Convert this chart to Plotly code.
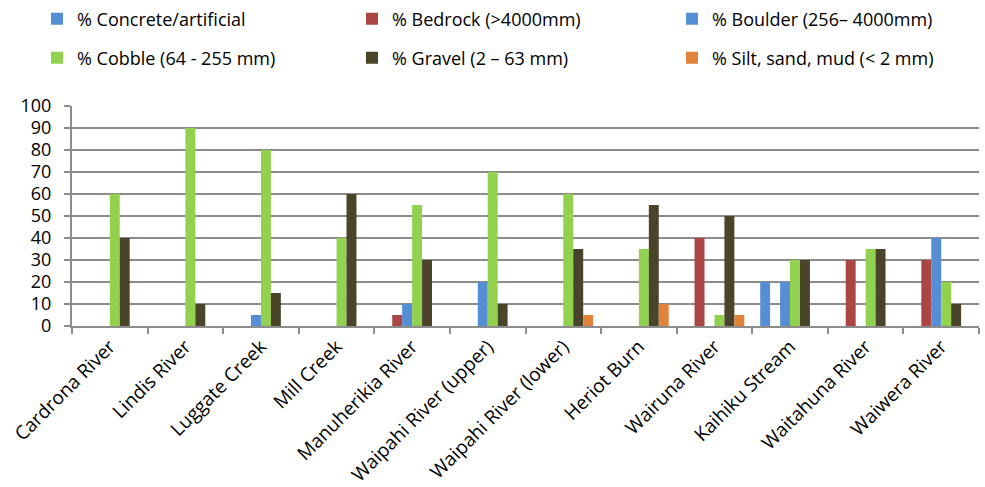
import plotly.graph_objects as go

sites = ["Cardrona River", "Lindis River", "Luggate Creek", "Mill Creek",
         "Manuherikia River", "Waipahi River (upper)", "Waipahi River (lower)",
         "Heriot Burn", "Wairuna River", "Kaihiku Stream", "Waitahuna River",
         "Waiwera River"]

concrete = [0, 0, 0, 0, 0, 0, 0, 0, 0, 20, 0, 0]
bedrock = [0, 0, 0, 0, 5, 0, 0, 0, 40, 0, 30, 30]
boulder = [0, 0, 5, 0, 10, 20, 0, 0, 0, 20, 0, 40]
cobble = [60, 90, 80, 40, 55, 70, 60, 35, 5, 30, 35, 20]
gravel = [40, 10, 15, 60, 30, 10, 35, 55, 50, 30, 35, 10]
silt = [0, 0, 0, 0, 0, 0, 5, 10, 5, 0, 0, 0]

series = [
    ("% Concrete/artificial", concrete, "#558ED5"),
    ("% Bedrock (>4000mm)", bedrock, "#AA4643"),
    ("% Boulder (256\u2013 4000mm)", boulder, "#558ED5"),
    ("% Cobble (64 - 255 mm)", cobble, "#92D050"),
    ("% Gravel (2 \u2013 63 mm)", gravel, "#4A452A"),
    ("% Silt, sand, mud (< 2 mm)", silt, "#E0843C"),
]

FONT = "Open Sans, Noto Sans, sans-serif"

# legend entries laid out in a 3 x 2 grid (left edge px, centre y px)
legend_slots = [(37, 19), (352, 19), (672, 19),
                (37, 58), (352, 58), (672, 58)]

fig = go.Figure()
layout_legends = {}
for i, ((name, vals, color), (lx, ly)) in enumerate(zip(series, legend_slots)):
    key = "legend" if i == 0 else f"legend{i + 1}"
    fig.add_trace(go.Bar(name=name, x=sites, y=vals, marker_color=color,
                         marker_line_width=0, legend=key))
    layout_legends[key] = dict(
        orientation="h",
        xref="container", yref="container", x=lx / 985, y=1 - ly / 487,
        xanchor="left", yanchor="middle", itemwidth=30,
        font=dict(family=FONT, size=18, color="#000000"),
        bgcolor="rgba(0,0,0,0)")

fig.update_layout(
    width=985, height=487,
    margin=dict(l=72, r=6, t=106, b=161),
    paper_bgcolor="white", plot_bgcolor="white",
    showlegend=True,
    barmode="group", bargap=0.21, bargroupgap=0,
    font=dict(family=FONT, size=18, color="#000000"),
    xaxis=dict(type="category", tickson="boundaries", ticks="outside",
               ticklen=6, tickcolor="#8C8C8C", tickwidth=2,
               showline=True, linecolor="#8C8C8C", linewidth=2,
               tickangle=-45, showgrid=False, automargin=False,
               tickfont=dict(family=FONT, size=19)),
    yaxis=dict(range=[0, 100], dtick=10, showgrid=True,
               gridcolor="#8C8C8C", gridwidth=2,
               showline=True, linecolor="#8C8C8C", linewidth=2,
               ticks="outside", ticklen=6, tickcolor="#8C8C8C", tickwidth=2,
               ticksuffix="\u2002", automargin=False,
               zeroline=False, tickfont=dict(family=FONT, size=18)),
    **layout_legends,
)

fig.write_html("out.html")
